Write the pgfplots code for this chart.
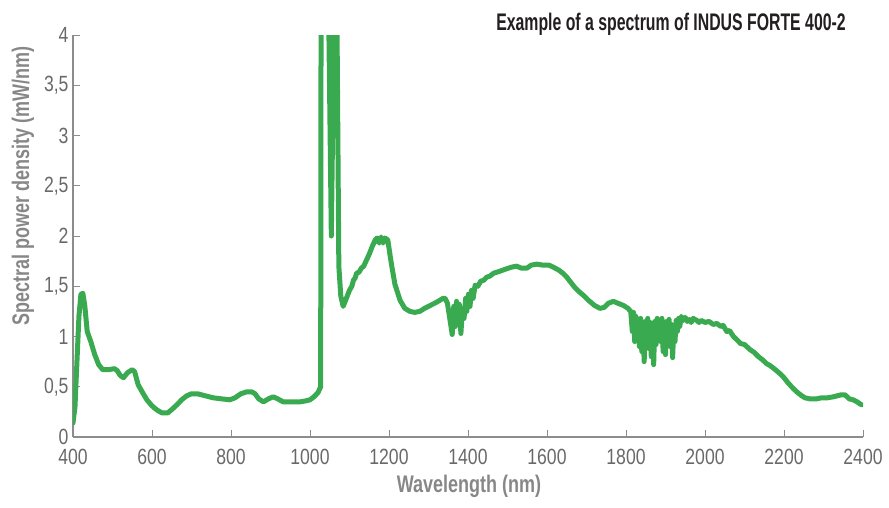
\documentclass[border=0pt]{standalone}
\usepackage{fontspec}
\setmainfont[FakeStretch=0.80]{Liberation Sans}
\newfontfamily\labfont[FakeStretch=0.75]{Liberation Sans}
\newfontfamily\titfont[FakeStretch=0.66]{Liberation Sans}
\usepackage{pgfplots}
\pgfplotsset{compat=1.18}
\definecolor{specgreen}{RGB}{58,170,80}
\definecolor{axgrey}{RGB}{140,140,140}
\definecolor{tickgrey}{RGB}{105,105,105}
\definecolor{labgrey}{RGB}{135,135,135}
\definecolor{titdark}{RGB}{35,31,32}
\pgfplotstableread{
x y
400 0.14
405 0.30
410 0.75
415 1.20
420 1.42
425 1.43
430 1.30
436 1.05
445 0.95
455 0.82
465 0.72
475 0.67
490 0.67
505 0.68
512 0.66
520 0.61
528 0.59
538 0.64
550 0.67
556 0.65
565 0.52
575 0.45
587 0.37
600 0.31
612 0.27
625 0.24
640 0.24
652 0.28
663 0.32
675 0.37
688 0.41
700 0.43
715 0.43
735 0.41
755 0.39
775 0.38
797 0.37
810 0.39
825 0.43
840 0.45
852 0.45
861 0.43
870 0.38
882 0.35
895 0.38
907 0.40
918 0.38
932 0.35
950 0.35
975 0.35
990 0.36
1000 0.37
1010 0.40
1020 0.44
1027 0.50
1028 4.30
1037 6.00
1047 4.30
1054 2.00
1061 4.30
1065 6.00
1068 4.30
1073 1.70
1078 1.40
1084 1.30
1092 1.38
1100 1.46
1106 1.50
1110 1.56
1114 1.58
1118 1.63
1124 1.64
1130 1.68
1136 1.70
1143 1.76
1150 1.82
1158 1.90
1165 1.96
1170 1.98
1175 1.93
1180 1.99
1185 1.93
1190 1.98
1197 1.96
1203 1.80
1207 1.70
1215 1.52
1228 1.36
1240 1.28
1253 1.25
1265 1.24
1278 1.25
1290 1.28
1305 1.31
1320 1.34
1337 1.38
1342 1.38
1348 1.33
1355 1.15
1360 1.02
1364 1.30
1368 1.10
1371 1.35
1375 1.20
1378 1.32
1382 1.03
1386 1.28
1390 1.18
1394 1.38
1397 1.25
1401 1.42
1405 1.30
1409 1.46
1413 1.38
1418 1.51
1425 1.50
1432 1.55
1440 1.56
1447 1.59
1455 1.60
1465 1.63
1481 1.65
1495 1.67
1510 1.69
1523 1.70
1535 1.68
1549 1.68
1560 1.71
1574 1.72
1590 1.71
1605 1.71
1616 1.69
1630 1.66
1640 1.63
1650 1.59
1660 1.54
1670 1.49
1680 1.45
1692 1.41
1705 1.36
1720 1.31
1734 1.28
1745 1.29
1755 1.33
1768 1.35
1780 1.33
1793 1.31
1805 1.28
1812 1.25
1816 1.05
1819 1.24
1822 0.95
1825 1.20
1828 1.00
1831 1.16
1834 0.90
1837 1.18
1840 0.85
1843 1.12
1846 0.75
1849 1.15
1852 0.95
1855 1.18
1858 0.88
1861 1.14
1864 0.80
1867 1.10
1870 0.72
1873 1.15
1876 0.92
1879 1.18
1882 1.00
1885 1.16
1888 0.95
1891 1.18
1894 0.85
1897 1.12
1900 0.82
1903 1.15
1906 0.98
1909 1.17
1912 0.90
1915 1.12
1918 0.79
1921 1.10
1924 0.95
1927 1.16
1930 1.05
1933 1.18
1936 1.10
1940 1.20
1945 1.16
1950 1.19
1955 1.15
1960 1.17
1965 1.14
1970 1.18
1979 1.16
1985 1.14
1990 1.16
2000 1.14
2010 1.15
2021 1.12
2030 1.13
2040 1.10
2046 1.11
2055 1.05
2062 1.06
2072 1.00
2080 0.97
2090 0.93
2100 0.92
2114 0.87
2125 0.84
2135 0.80
2145 0.77
2156 0.73
2165 0.71
2175 0.68
2190 0.63
2200 0.59
2210 0.54
2224 0.48
2235 0.44
2245 0.41
2253 0.39
2265 0.38
2283 0.38
2295 0.39
2310 0.39
2325 0.40
2335 0.41
2345 0.42
2354 0.42
2360 0.40
2365 0.38
2375 0.37
2385 0.35
2392 0.33
2397 0.32
}\spectrum
\begin{document}
\begin{tikzpicture}
\useasboundingbox (0,0) rectangle (889pt,507pt);
\begin{axis}[
  at={(73pt,70pt)}, anchor=south west,
  scale only axis, width=790pt, height=402pt,
  xmin=400, xmax=2400, ymin=0, ymax=4,
  axis lines*=left,
  axis line style={axgrey, line width=1.2pt},
  xtick={400,600,...,2400},
  ytick={0,0.5,...,4},
  tick align=inside,
  major tick length=7pt,
  tick style={axgrey, line width=1pt},
  /pgf/number format/assume math mode=true,
  /pgf/number format/use comma,
  /pgf/number format/1000 sep={},
  ticklabel style={font=\fontsize{22}{22}\selectfont, text=tickgrey},
  xticklabel style={yshift=-9pt},
  yticklabel style={xshift=-1pt},
  clip=true,
]
\addplot[specgreen, line width=5pt, line join=round, line cap=round] table[x=x,y=y] {\spectrum};
\end{axis}
\node[rotate=90, text=labgrey, font=\labfont\bfseries\fontsize{24}{24}\selectfont] at (23pt,321pt) {Spectral power density (mW/nm)};
\node[text=labgrey, font=\labfont\bfseries\fontsize{24}{24}\selectfont] at (469pt,21pt) {Wavelength (nm)};
\node[text=titdark, font=\titfont\bfseries\fontsize{24}{24}\selectfont] at (671pt,483pt) {Example of a spectrum of INDUS FORTE 400-2};
\end{tikzpicture}
\end{document}
